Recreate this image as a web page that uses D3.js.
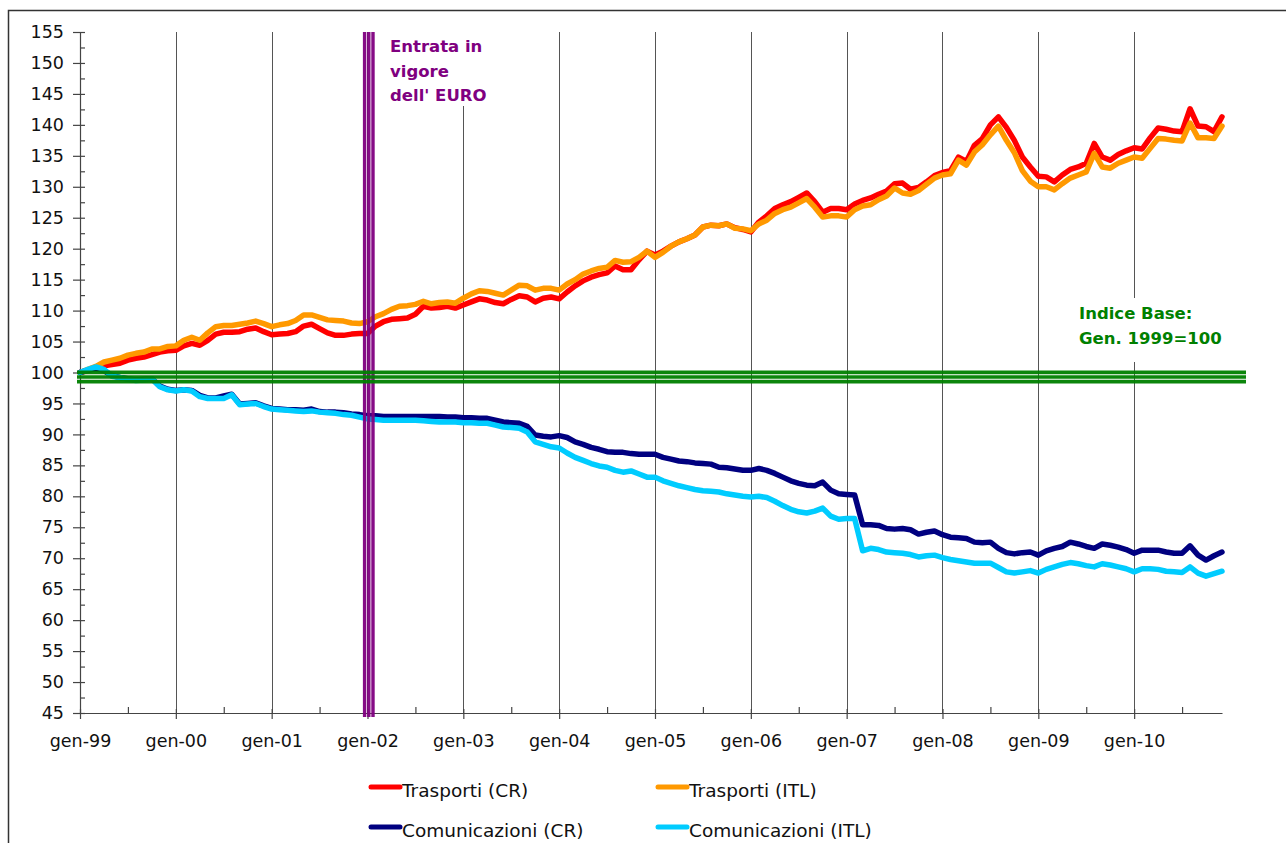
<!DOCTYPE html>
<html lang="it">
<head>
<meta charset="UTF-8">
<title>Trasporti e Comunicazioni</title>
<script src="https://cdn.jsdelivr.net/npm/d3@7"></script>
<style>
    body { margin: 0; background: #fff; }
    svg text { font-family: "DejaVu Sans", sans-serif; }
</style>
</head>
<body>
<div id="grafico"></div>
<script>
    // etichette asse x (una per anno, 12 mesi ciascuna)
    const anni = ['gen-99', 'gen-00', 'gen-01', 'gen-02', 'gen-03', 'gen-04', 'gen-05', 'gen-06', 'gen-07', 'gen-08', 'gen-09', 'gen-10']
    const valoriY = [45, 50, 55, 60, 65, 70, 75, 80, 85, 90, 95, 100, 105, 110, 115, 120, 125, 130, 135, 140, 145, 150, 155]

    const nomi = ['Trasporti (CR)', 'Trasporti (ITL)', 'Comunicazioni (CR)', 'Comunicazioni (ITL)']
    const colori = ['#ff0000', '#ff9900', '#000080', '#00ccff']

    // valori mensili gen-99 ... dic-10
    const trasportiCR = [
        100.0, 100.3, 100.7, 101.1, 101.3, 101.5, 102.0, 102.3, 102.5, 102.9, 103.3, 103.5,
        103.6, 104.3, 104.7, 104.4, 105.2, 106.2, 106.5, 106.5, 106.6, 107.0, 107.2, 106.6,
        106.1, 106.2, 106.3, 106.6, 107.5, 107.8, 107.1, 106.4, 106.0, 106.0, 106.2, 106.3,
        106.3, 107.5, 108.2, 108.6, 108.7, 108.8, 109.4, 110.7, 110.4, 110.5, 110.7, 110.4,
        110.9, 111.4, 111.9, 111.7, 111.3, 111.1, 111.8, 112.4, 112.2, 111.4, 112.0, 112.2,
        111.9, 113.0, 114.0, 114.8, 115.4, 115.8, 116.1, 117.2, 116.6, 116.6, 118.2, 119.6,
        119.0, 119.6, 120.4, 121.1, 121.6, 122.2, 123.5, 123.8, 123.7, 124.0, 123.4, 123.1,
        122.7, 124.3, 125.3, 126.5, 127.1, 127.6, 128.3, 129.0, 127.6, 125.9, 126.5, 126.5,
        126.3, 127.2, 127.8, 128.2, 128.8, 129.3, 130.5, 130.6, 129.6, 129.9, 130.8, 131.8,
        132.3, 132.6, 134.8, 134.1, 136.7, 137.8, 140.0, 141.3, 139.6, 137.5, 134.8, 133.2,
        131.7, 131.6, 130.8, 131.9, 132.8, 133.2, 133.8, 137.0, 134.8, 134.3, 135.2, 135.8,
        136.3, 136.1, 137.9, 139.5, 139.3, 139.0, 138.9, 142.6, 139.8, 139.7, 138.9, 141.3
    ]
    const trasportiITL = [
        100.0, 100.5, 101.0, 101.7, 102.0, 102.3, 102.8, 103.1, 103.3, 103.8, 103.8, 104.2,
        104.3, 105.2, 105.7, 105.2, 106.4, 107.4, 107.6, 107.6, 107.8, 108.0, 108.3, 107.9,
        107.4, 107.7, 107.9, 108.4, 109.3, 109.3, 108.9, 108.5, 108.4, 108.3, 108.0, 107.9,
        108.2, 109.0, 109.5, 110.2, 110.7, 110.8, 111.0, 111.5, 111.1, 111.3, 111.4, 111.2,
        112.0, 112.7, 113.2, 113.1, 112.8, 112.5, 113.3, 114.1, 114.0, 113.3, 113.6, 113.6,
        113.3, 114.3, 115.0, 115.9, 116.4, 116.8, 117.0, 118.1, 117.8, 117.9, 118.6, 119.6,
        118.6, 119.4, 120.4, 121.1, 121.6, 122.2, 123.5, 123.8, 123.7, 124.0, 123.3, 123.2,
        122.9, 124.0, 124.6, 125.7, 126.3, 126.7, 127.4, 128.1, 126.7, 125.1, 125.3, 125.3,
        125.1, 126.3, 126.9, 127.1, 127.9, 128.5, 129.8, 129.0, 128.8, 129.4, 130.4, 131.4,
        131.9, 132.1, 134.3, 133.5, 135.6, 136.8, 138.4, 139.8, 137.5, 135.5, 132.6, 130.9,
        130.0, 130.0, 129.5, 130.5, 131.4, 131.9, 132.4, 135.4, 133.2, 133.0, 133.8, 134.3,
        134.8, 134.6, 136.2, 137.8, 137.7, 137.5, 137.4, 140.3, 137.9, 137.9, 137.8, 139.8
    ]
    const comunicazioniCR = [
        100.0, 100.4, 100.6, 100.3, 99.5, 99.2, 99.0, 98.8, 98.9, 99.0, 97.8, 97.3,
        97.1, 97.2, 97.1, 96.3, 95.9, 95.9, 96.2, 96.5, 94.9, 95.0, 95.1, 94.6,
        94.2, 94.1, 94.0, 94.0, 93.9, 94.1, 93.7, 93.6, 93.6, 93.5, 93.3, 93.2,
        93.0, 93.0, 92.9, 92.9, 92.9, 92.9, 92.9, 92.9, 92.9, 92.9, 92.8, 92.8,
        92.7, 92.7, 92.6, 92.6, 92.3, 92.0, 91.9, 91.8, 91.3, 89.9, 89.7, 89.6,
        89.8, 89.5, 88.8, 88.4, 87.9, 87.6, 87.2, 87.1, 87.1, 86.9, 86.8, 86.8,
        86.8, 86.3, 86.0, 85.7, 85.6, 85.4, 85.3, 85.2, 84.7, 84.6, 84.4, 84.2,
        84.2, 84.5, 84.2, 83.7, 83.1, 82.5, 82.1, 81.8, 81.7, 82.3, 81.0, 80.4,
        80.3, 80.2, 75.4, 75.4, 75.3, 74.8, 74.7, 74.8, 74.6, 73.9, 74.2, 74.4,
        73.8, 73.4, 73.3, 73.2, 72.6, 72.5, 72.6, 71.6, 70.9, 70.7, 70.9, 71.0,
        70.5, 71.2, 71.6, 71.9, 72.6, 72.3, 71.9, 71.6, 72.3, 72.1, 71.8, 71.4,
        70.8, 71.3, 71.3, 71.3, 71.0, 70.8, 70.8, 72.0, 70.5, 69.7, 70.4, 71.0
    ]
    const comunicazioniITL = [
        100.0, 100.5, 100.9, 100.5, 99.4, 99.2, 98.9, 98.7, 98.8, 99.0, 97.7, 97.2,
        97.0, 97.2, 97.0, 96.1, 95.8, 95.8, 95.8, 96.4, 94.8, 94.9, 95.0, 94.5,
        94.1, 94.0, 93.9, 93.8, 93.7, 93.8, 93.6, 93.5, 93.4, 93.2, 93.1, 92.8,
        92.5, 92.4, 92.3, 92.3, 92.3, 92.3, 92.3, 92.2, 92.1, 92.0, 92.0, 92.0,
        91.9, 91.9, 91.8, 91.8, 91.5, 91.2, 91.1, 91.0, 90.4, 88.8, 88.4, 88.0,
        87.8, 87.0, 86.3, 85.8, 85.3, 84.9, 84.7, 84.2, 83.9, 84.1, 83.6, 83.1,
        83.1, 82.5, 82.1, 81.7, 81.4, 81.1, 80.9, 80.8, 80.7, 80.4, 80.2, 80.0,
        79.9, 80.0, 79.8, 79.2, 78.5, 77.9, 77.5, 77.3, 77.6, 78.1, 76.8, 76.3,
        76.4, 76.4, 71.2, 71.6, 71.4, 71.0, 70.9, 70.8, 70.6, 70.2, 70.4, 70.5,
        70.1, 69.8, 69.6, 69.4, 69.2, 69.2, 69.2, 68.5, 67.8, 67.6, 67.8, 68.0,
        67.6, 68.2, 68.6, 69.0, 69.3, 69.1, 68.8, 68.6, 69.1, 68.9, 68.6, 68.3,
        67.8, 68.3, 68.3, 68.2, 67.9, 67.8, 67.7, 68.6, 67.6, 67.1, 67.5, 67.9
    ]
    const serie = [trasportiCR, trasportiITL, comunicazioniCR, comunicazioniITL]

    const svg = d3.select('#grafico')
        .append('svg')
        .attr('width', 1286)
        .attr('height', 843)

    // cornice esterna
    svg.append('rect')
        .attr('x', 8.5).attr('y', 10.5)
        .attr('width', 1300).attr('height', 900)
        .attr('fill', 'none')
        .attr('stroke', '#333')
        .attr('stroke-width', 1.5)

    const x = d3.scaleLinear().domain([0, 143]).range([80, 1222])
    const y = d3.scaleLinear().domain([45, 155]).range([713, 32])

    // griglia verticale (una linea per anno)
    svg.append('g')
        .selectAll('line')
        .data(anni.slice(1))
        .enter()
        .append('line')
        .attr('x1', (d, i) => Math.round(x((i + 1) * 12)) + 0.5)
        .attr('x2', (d, i) => Math.round(x((i + 1) * 12)) + 0.5)
        .attr('y1', y(155))
        .attr('y2', y(45))
        .attr('stroke', '#555')
        .attr('stroke-width', 1)

    // riquadri bianchi dietro le etichette
    svg.append('rect').attr('x', 384).attr('y', 30).attr('width', 100).attr('height', 76).attr('fill', '#fff')
    svg.append('rect').attr('x', 1074).attr('y', 298).attr('width', 156).attr('height', 64).attr('fill', '#fff')

    // asse y
    const yAxis = svg.append('g')
        .attr('transform', 'translate(80, 0)')
        .call(d3.axisLeft(y).tickValues(valoriY).tickSizeInner(7).tickSizeOuter(0).tickPadding(9))
    yAxis.selectAll('.tick line').attr('x1', 5)
    yAxis.append('g')
        .call(d3.axisLeft(y).tickValues(valoriY.slice(0, -1).map(v => v + 2.5)).tickSize(-5).tickFormat(''))
        .select('.domain').remove()

    // asse x
    const xAxis = svg.append('g')
        .attr('transform', 'translate(0, 713)')
        .call(d3.axisBottom(x).tickValues(anni.map((d, i) => i * 12)).tickFormat((d, i) => anni[i]).tickSizeInner(6).tickSizeOuter(0).tickPadding(16))
    xAxis.selectAll('.tick line').attr('y1', -4)
    xAxis.append('g')
        .call(d3.axisBottom(x).tickValues(anni.map((d, i) => i * 12 + 6)).tickSize(-6).tickFormat(''))
        .select('.domain').remove()

    svg.selectAll('.domain, .tick line').attr('stroke', '#444').attr('stroke-width', 1.2)
    svg.selectAll('.tick text').attr('font-size', 17.5).attr('fill', '#111').style('font-family', '"DejaVu Sans", sans-serif')

    // serie
    const linea = d3.line()
        .x((d, i) => x(i))
        .y(d => y(d))

    svg.append('g')
        .selectAll('path')
        .data(serie)
        .enter()
        .append('path')
        .attr('d', d => linea(d))
        .attr('fill', 'none')
        .attr('stroke', (d, i) => colori[i])
        .attr('stroke-width', 5.5)
        .attr('stroke-linejoin', 'round')
        .attr('stroke-linecap', 'round')

    // entrata in vigore dell'euro: tre linee viola
    svg.append('g')
        .selectAll('line')
        .data([-4.2, 0, 4.2])
        .enter()
        .append('line')
        .attr('x1', d => x(36) + 1.3 + d)
        .attr('x2', d => x(36) + 1.3 + d)
        .attr('y1', y(155))
        .attr('y2', y(45) + 4)
        .attr('stroke', '#800080')
        .attr('stroke-width', 3.4)
        .attr('opacity', 0.95)

    // indice base = 100: tre linee verdi
    svg.append('g')
        .selectAll('line')
        .data([-4.6, 0, 4.6])
        .enter()
        .append('line')
        .attr('x1', 77)
        .attr('x2', 1246)
        .attr('y1', d => y(100) + 4.5 + d)
        .attr('y2', d => y(100) + 4.5 + d)
        .attr('stroke', '#008000')
        .attr('stroke-width', 3.6)
        .attr('opacity', 0.95)

    const euro = svg.append('text')
        .attr('x', 390)
        .attr('fill', '#800080')
        .attr('font-size', 16.5)
        .attr('font-weight', 'bold')
    euro.selectAll('tspan')
        .data(['Entrata in', 'vigore', "dell' EURO"])
        .enter()
        .append('tspan')
        .attr('x', 390)
        .attr('y', (d, i) => 52 + i * 24.5)
        .text(d => d)

    const base = svg.append('text')
        .attr('fill', '#008000')
        .attr('font-size', 16.5)
        .attr('font-weight', 'bold')
    base.selectAll('tspan')
        .data(['Indice Base:', 'Gen. 1999=100'])
        .enter()
        .append('tspan')
        .attr('x', 1079)
        .attr('y', (d, i) => 319 + i * 24.5)
        .text(d => d)

    // legenda
    const legenda = svg.append('g')
        .selectAll('g')
        .data(nomi)
        .enter()
        .append('g')
        .attr('transform', (d, i) => `translate(${i % 2 === 0 ? 371 : 658}, ${i < 2 ? 787 : 827})`)
    legenda.append('line')
        .attr('x1', 0).attr('x2', 29)
        .attr('stroke', (d, i) => colori[i])
        .attr('stroke-width', 5)
        .attr('stroke-linecap', 'round')
    legenda.append('text')
        .attr('x', 31)
        .attr('y', 10)
        .attr('font-size', 18.5)
        .attr('fill', '#111')
        .text(d => d)
</script>
</body>
</html>
